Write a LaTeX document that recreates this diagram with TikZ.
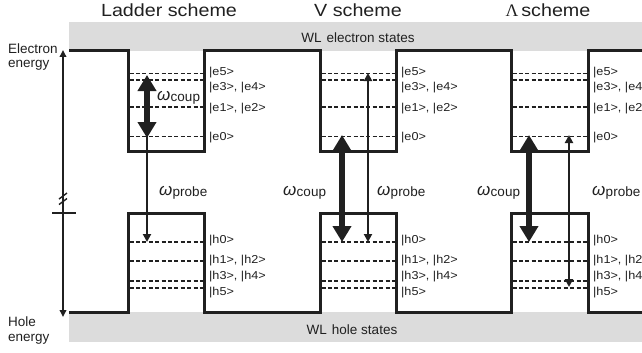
\documentclass[tikz,border=0pt]{standalone}
\usepackage{fontspec}
\setmainfont{Liberation Sans}
\newfontfamily\titlefont[FakeStretch=1.12]{Liberation Sans}
\newfontfamily\labfont[FakeStretch=1.1]{Liberation Sans}
\newfontfamily\seriffont{Liberation Serif}
\usetikzlibrary{arrows.meta}
\definecolor{ink}{RGB}{32,32,32}
\definecolor{wlgray}{RGB}{220,220,220}
\newcommand\omlab[1]{{\fontsize{17}{17}\selectfont\itshape ω}\kern0.3pt\raisebox{-1.5pt}{\fontsize{13.5}{13.5}\selectfont #1}}
\begin{document}
\begin{tikzpicture}[x=1pt,y=-1pt,
  wall/.style={line width=3pt, draw=ink, line join=miter},
  level/.style={line width=1.8pt, draw=ink, dash pattern=on 4pt off 2.4pt},
  bigtip/.tip={Triangle[width=18pt,length=16pt]},
  smalltip/.tip={Triangle[width=8pt,length=8pt]},
  axtip/.tip={Triangle[width=6.5pt,length=7pt]},
  coupline/.style={line width=6.5pt, draw=ink},
  probeline/.style={line width=2.2pt, draw=ink},
  axisline/.style={line width=2.4pt, draw=ink},
  title/.style={text=ink, font=\titlefont\fontsize{17.6}{18}\selectfont, inner sep=0pt},
  wltext/.style={text=ink, font=\fontsize{13.5}{14}\selectfont, inner sep=0pt},
  side/.style={text=ink, font=\fontsize{13.5}{14}\selectfont, inner sep=0pt, anchor=base west},
  state/.style={text=ink, font=\labfont\fontsize{11.5}{12}\selectfont, inner sep=0pt, anchor=base west},
  omega/.style={text=ink, inner sep=0pt, anchor=base west}]
\useasboundingbox (0,0) rectangle (642,353);

% WL bands
\fill[wlgray] (69,22) rectangle (642,51);
\fill[wlgray] (69,312) rectangle (642,342);
\node[wltext] (wle) at (358,38) {WL\hspace{5pt}electron states};
\node[wltext] (wlh) at (352,330) {WL\hspace{5pt}hole states};

% titles
\node[title] (tL) at (169,10) {Ladder scheme};
\node[title] (tV) at (358,10) {V scheme};
\node[title] (tA) at (548,10) {{\seriffont Λ}\,scheme};

% band profiles
\draw[wall] (69,51) -- (128,51) -- (128,151) -- (204,151) -- (204,51)
  -- (320,51) -- (320,151) -- (396,151) -- (396,51)
  -- (511,51) -- (511,151) -- (588,151) -- (588,51) -- (645,51);
\draw[wall] (69,312) -- (128,312) -- (128,213) -- (204,213) -- (204,312)
  -- (320,312) -- (320,213) -- (396,213) -- (396,312)
  -- (511,312) -- (511,213) -- (588,213) -- (588,312) -- (645,312);

% levels and labels
\foreach \xl/\xr in {128/204, 320/396, 511/588}{
  \foreach \y in {73.5,80,107,136.5,242,261,281,288}{
    \draw[level] (\xl+1.5,\y) -- (\xr-1.5,\y);
  }
  \node[state] at (\xr+5,75.5) {|e5>};
  \node[state] at (\xr+5,90) {|e3>, |e4>};
  \node[state] at (\xr+5,111) {|e1>, |e2>};
  \node[state] at (\xr+5,140.5) {|e0>};
  \node[state] at (\xr+5,243.5) {|h0>};
  \node[state] at (\xr+5,263.5) {|h1>, |h2>};
  \node[state] at (\xr+5,279.3) {|h3>, |h4>};
  \node[state] at (\xr+5,295) {|h5>};
}

% energy axis
\coordinate (axmid) at (63,213);
\coordinate (axtop) at (63,50);
\coordinate (axbot) at (63,317);
\coordinate (tickl) at (52,213);
\coordinate (tickr) at (76,213);
\draw[axisline, -{axtip}] (axmid) -- (axtop);
\draw[axisline, -{axtip}] (axmid) -- (axbot);
\draw[line width=1.6pt, draw=ink] (tickl) -- (tickr);
\draw[line width=1.4pt, draw=ink] (59,199) -- (67,193);
\draw[line width=1.4pt, draw=ink] (59,204.5) -- (67,198.5);
\node[side] (el1) at (8,53) {Electron};
\node[side] (el2) at (8,67.5) {energy};
\node[side] (ho1) at (8,326) {Hole};
\node[side] (ho2) at (8,341.5) {energy};

% Ladder scheme arrows
\coordinate (Lpt) at (147,127);
\coordinate (Lpb) at (147,242);
\coordinate (Lct) at (147,75);
\coordinate (Lcb) at (147,138);
\draw[probeline, -{smalltip}] (Lpt) -- (Lpb);
\draw[coupline, {bigtip}-{bigtip}] (Lcb) -- (Lct);
\node[omega] (Lc) at (157,100) {\omlab{coup}};
\node[omega] (Lp) at (159,195) {\omlab{probe}};

% V scheme arrows
\coordinate (Vct) at (342,135);
\coordinate (Vcb) at (342,242);
\coordinate (Vpt) at (368,73);
\coordinate (Vpb) at (368,242);
\draw[coupline, {bigtip}-{bigtip}] (Vcb) -- (Vct);
\draw[probeline, {smalltip}-{smalltip}] (Vpb) -- (Vpt);
\node[omega] (Vc) at (283,195) {\omlab{coup}};
\node[omega] (Vp) at (377,195) {\omlab{probe}};

% Lambda scheme arrows
\coordinate (Act) at (529,135);
\coordinate (Acb) at (529,242);
\coordinate (Apt) at (569,135);
\coordinate (Apb) at (569,287);
\draw[coupline, {bigtip}-{bigtip}] (Acb) -- (Act);
\draw[probeline, {smalltip}-{smalltip}] (Apb) -- (Apt);
\node[omega] (Ac) at (477,195) {\omlab{coup}};
\node[omega] (Ap) at (592,195) {\omlab{probe}};
\end{tikzpicture}
\end{document}
